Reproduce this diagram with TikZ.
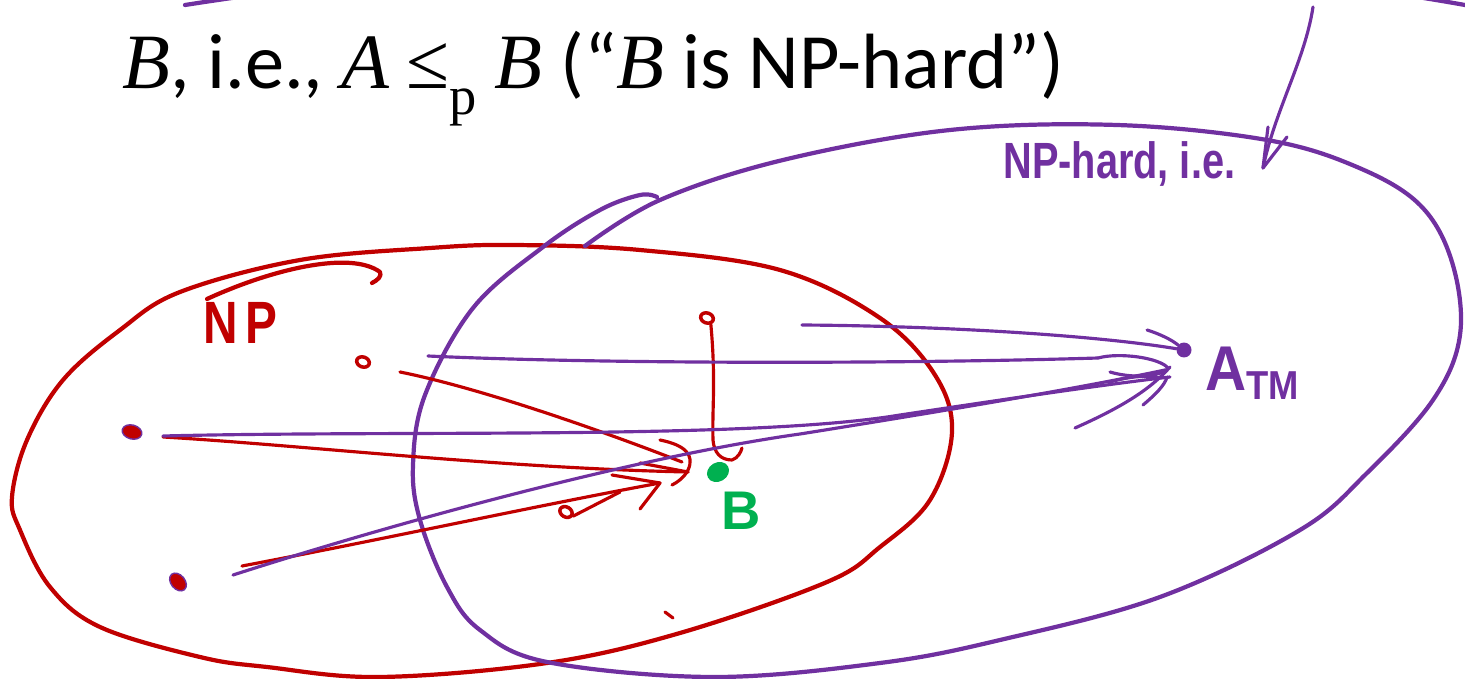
\documentclass[tikz,border=0pt]{standalone}
\usepackage{fontspec}
\usetikzlibrary{shapes.geometric}
\setmainfont{Carlito}
\newfontfamily\serif{Liberation Serif}
\newfontfamily\hand{Liberation Sans}
\definecolor{npred}{HTML}{C00000}
\definecolor{hardpurple}{HTML}{7030A0}
\definecolor{bgreen}{HTML}{00B050}
\begin{document}
\begin{tikzpicture}[x=0.02cm,y=-0.02cm,line cap=round,line join=round,
  redthick/.style={draw=npred,line width=2.4pt},
  purthick/.style={draw=hardpurple,line width=2.4pt},
  redline/.style={draw=npred,line width=1.8pt},
  purline/.style={draw=hardpurple,line width=1.8pt},
  loopdot/.style={draw=npred,line width=2pt,ellipse,inner sep=0pt,minimum width=0.26cm,minimum height=0.2cm},
  blobdot/.style={fill=npred,draw=hardpurple,line width=0.8pt,ellipse,inner sep=0pt,minimum width=0.4cm,minimum height=0.28cm},
  handlabel/.style={inner sep=0pt,font=\hand}]
\useasboundingbox (0,0) rectangle (1465,679);
\clip (0,0) rectangle (1465,679);

% title
\node[anchor=base west,inner sep=0pt,font=\fontsize{44.6}{52}\selectfont] (title) at (122,89)
  {{\serif\itshape B}, i.e., {\serif\itshape A} {\serif≤\raisebox{-0.32em}{\fontsize{31}{34}\selectfont p}} {\serif\itshape B} (“{\serif\itshape B} is NP-hard”)};

% arc of the previous slide at the top edge
\draw[purthick] (185,5) .. controls (600,-60) and (1100,-60) .. (1465,5);

% NP ellipse (red)
\draw[redthick] plot[smooth cycle,tension=0.6] coordinates {(180,292) (300,260) (430,248) (513,245) (640,250) (780,270) (880,318) (935,375) (952,432) (930,500) (880,547) (827,582) (680,633) (547,663) (380,677) (267,667) (200,657) (100,627) (50,587) (20,530) (12,497) (27,440) (63,380) (120,330)};
\draw[redthick] (207,299) .. controls (270,270) and (350,250) .. (380,272) .. controls (382,276) and (378,280) .. (372,283);

% NP-hard ellipse (purple)
\draw[purthick] plot[smooth,tension=0.6] coordinates {(585,246) (660,200) (783,160) (950,130) (1117,125) (1267,140) (1357,167) (1420,205) (1452,262) (1460,335) (1433,400) (1367,473) (1300,530) (1160,597) (1000,640) (880,663) (713,677) (547,662) (480,630) (447,587) (420,520) (413,465) (425,395) (473,308) (543,247) (600,210) (640,195) (657,197)};

% pointer arrow from above
\coordinate (ptop) at (1313,7);
\coordinate (ptip) at (1263,168);
\draw[purline] (ptop) .. controls (1305,60) and (1275,110) .. (ptip);
\draw[purline] (1268,127) -- (ptip) -- (1287,137);

% labels
\node[handlabel,text=hardpurple,anchor=base west,font=\hand\bfseries\fontsize{29}{32}\selectfont] (hardlbl) at (1003,178) {\scalebox{0.78}[1]{NP-hard, i.e.}};
\node[handlabel,text=npred,anchor=base west,font=\hand\bfseries\fontsize{34}{40}\selectfont] (nplbl) at (203,343) {\scalebox{0.8}[1]{N\,P}};
\node[handlabel,text=hardpurple,anchor=base west,font=\hand\bfseries\fontsize{36}{40}\selectfont] (atm) at (1205,390) {\scalebox{0.9}[1]{A\raisebox{-0.15em}{\fontsize{23}{26}\selectfont TM}}};
\node[handlabel,text=bgreen,anchor=base west,font=\hand\bfseries\fontsize{31}{36}\selectfont] (blbl) at (721,529) {B};

% points
\node[fill=bgreen,ellipse,inner sep=0pt,minimum width=0.46cm,minimum height=0.38cm,rotate=30] (bdot) at (718,472) {};
\node[fill=hardpurple,circle,inner sep=0pt,minimum size=0.3cm] (adot) at (1184,350) {};
\node[loopdot,rotate=-20] (d1) at (363,362) {};
\node[loopdot,rotate=-20] (d2) at (707,318) {};
\node[blobdot,rotate=-15] (d3) at (132,432) {};
\node[blobdot,rotate=-50] (d4) at (178,582) {};
\node[loopdot,rotate=-30] (d5) at (566,512) {};
\draw[redline] (665,612) -- (673,618);

% red reductions to B
\coordinate (r1s) at (400,372);
\coordinate (r1e) at (682,462);
\draw[redline] (r1s) .. controls (480,388) and (600,430) .. (r1e);
\coordinate (r2s) at (163,437);
\coordinate (r2e) at (688,472);
\draw[redline] (r2s) .. controls (300,445) and (500,468) .. (r2e);
\coordinate (r3s) at (242,566);
\coordinate (r3e) at (660,483);
\draw[redline] (r3s) .. controls (380,540) and (540,505) .. (r3e);
\draw[redline] (612,475) -- (r3e) -- (640,509);
\draw[redline] (d5.east) -- (620,492);
\draw[redline] (660,440) .. controls (685,445) and (695,455) .. (688,470) .. controls (684,478) and (676,483) .. (672,485);
\draw[redline] (640,463) -- (r2e);
\draw[redline] (d2.south east) .. controls (716,380) and (712,410) .. (713,440) .. controls (714,452) and (720,460) .. (732,460) .. controls (738,458) and (741,452) .. (742,448);

% purple reductions to A_TM
\coordinate (p1s) at (428,356);
\coordinate (p1e) at (1098,358);
\draw[purline] (p1s) .. controls (600,364) and (900,364) .. (p1e);
\draw[purline] (p1e) .. controls (1120,352) and (1160,358) .. (1168,368) .. controls (1160,378) and (1130,378) .. (1110,372);
\coordinate (p2s) at (802,325);
\draw[purline] (p2s) .. controls (950,326) and (1100,336) .. (adot);
\coordinate (p3s) at (163,436);
\coordinate (p3e) at (1170,377);
\draw[purline] (p3s) .. controls (400,430) and (750,440) .. (900,415) .. controls (1000,400) and (1100,385) .. (p3e);
\coordinate (p4s) at (233,575);
\coordinate (p4e) at (1165,370);
\draw[purline] (p4s) .. controls (420,515) and (650,455) .. (800,434) .. controls (950,410) and (1080,388) .. (p4e);
\draw[purline] (1147,330) .. controls (1160,334) and (1172,340) .. (adot);
\draw[purline] (1075,428) .. controls (1120,408) and (1150,390) .. (1170,367);
\draw[purline] (1143,405) .. controls (1155,395) and (1165,385) .. (1167,377);
\draw[purline] (1110,382) .. controls (1130,376) and (1150,375) .. (1160,378);
\end{tikzpicture}
\end{document}
